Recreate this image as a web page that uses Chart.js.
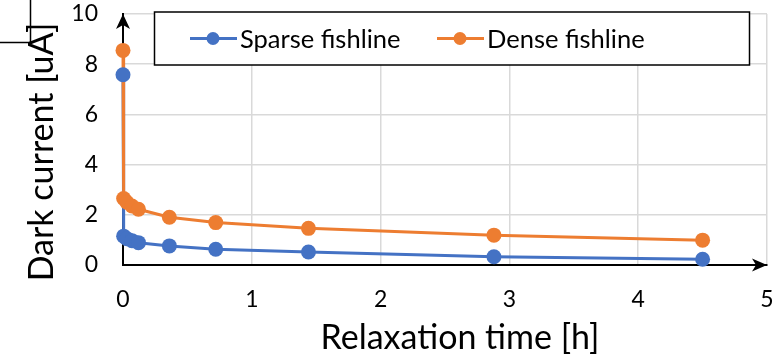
<!DOCTYPE html>
<html>
<head>
<meta charset="utf-8">
<script src="https://cdn.jsdelivr.net/npm/chart.js@4/dist/chart.umd.min.js"></script>
<style>
  html, body { margin: 0; padding: 0; background: #ffffff; }
  #wrap { width: 776px; height: 361px; position: relative; }
</style>
</head>
<body>
<div id="wrap"><canvas id="c" width="776" height="361"></canvas></div>
<script>
// Relaxation time in hours
const times = [0, 0.005, 0.03, 0.07, 0.12, 0.36, 0.72, 1.44, 2.88, 4.5];
// Dark current in uA
const sparse = [7.58, 1.15, 1.05, 0.97, 0.89, 0.76, 0.63, 0.52, 0.33, 0.23];
const dense  = [8.55, 2.65, 2.50, 2.35, 2.22, 1.90, 1.69, 1.46, 1.19, 0.99];

const seriesNames = ['Sparse fishline', 'Dense fishline'];
const seriesColors = ['#4472C4', '#ED7D31'];
const xTicks = [0, 1, 2, 3, 4, 5];
const yTicks = [0, 2, 4, 6, 8, 10];
const xTitle = 'Relaxation time [h]';
const yTitle = 'Dark current [uA]';

const FONT = 'Lato, "Open Sans", sans-serif';

function pts(vals) { return times.map((t, i) => ({ x: t, y: vals[i] })); }

// lines first, markers after, so markers sit on top of every line
const datasets = [
  { label: seriesNames[0], data: pts(sparse), showLine: true, borderColor: seriesColors[0], borderWidth: 3,
    pointRadius: 0, pointHoverRadius: 0, order: 4, clip: false, isLegend: true },
  { label: seriesNames[1], data: pts(dense), showLine: true, borderColor: seriesColors[1], borderWidth: 3,
    pointRadius: 0, pointHoverRadius: 0, order: 3, clip: false, isLegend: true },
  { label: seriesNames[0] + ' markers', data: pts(sparse), showLine: false, backgroundColor: seriesColors[0],
    borderColor: seriesColors[0], borderWidth: 0, pointRadius: 7.5, order: 2, clip: false },
  { label: seriesNames[1] + ' markers', data: pts(dense), showLine: false, backgroundColor: seriesColors[1],
    borderColor: seriesColors[1], borderWidth: 0, pointRadius: 7.5, order: 1, clip: false }
];

function noPad(s) { s.paddingTop = 0; s.paddingBottom = 0; s.paddingLeft = 0; s.paddingRight = 0; }

const decorations = {
  id: 'decorations',
  afterDraw(chart) {
    const ctx = chart.ctx;
    const a = chart.chartArea;
    ctx.save();

    // frame fragment in the top-left corner
    ctx.strokeStyle = '#000';
    ctx.lineWidth = 1.5;
    ctx.beginPath();
    ctx.moveTo(30.5, 0); ctx.lineTo(30.5, 42.5); ctx.lineTo(0, 42.5);
    ctx.stroke();

    // axis arrowheads
    ctx.fillStyle = '#000';
    const x0 = a.left, yTop = a.top, yBot = a.bottom, xR = a.right;
    ctx.beginPath();
    ctx.moveTo(x0, yTop);
    ctx.lineTo(x0 - 7, yTop + 15);
    ctx.lineTo(x0, yTop + 11);
    ctx.lineTo(x0 + 7, yTop + 15);
    ctx.closePath(); ctx.fill();
    ctx.beginPath();
    ctx.moveTo(xR, yBot);
    ctx.lineTo(xR - 15, yBot - 6.5);
    ctx.lineTo(xR - 11, yBot);
    ctx.lineTo(xR - 15, yBot + 6.5);
    ctx.closePath(); ctx.fill();

    // legend box
    const lx = 154.5, ly = 12, lw = 595, lh = 53;
    ctx.fillStyle = '#fff';
    ctx.fillRect(lx, ly, lw, lh);
    ctx.strokeStyle = '#000';
    ctx.lineWidth = 1.5;
    ctx.strokeRect(lx, ly, lw, lh);
    const items = chart.data.datasets.filter(d => d.isLegend);
    const starts = [190, 437];
    ctx.font = '25.5px ' + FONT;
    ctx.textBaseline = 'middle';
    ctx.textAlign = 'left';
    items.forEach((d, i) => {
      const sx = starts[i], cy = 38.5;
      ctx.strokeStyle = d.borderColor;
      ctx.lineWidth = 3;
      ctx.beginPath(); ctx.moveTo(sx, cy); ctx.lineTo(sx + 47, cy); ctx.stroke();
      ctx.fillStyle = d.borderColor;
      ctx.beginPath(); ctx.arc(sx + 23, cy, 6.5, 0, Math.PI * 2); ctx.fill();
      ctx.fillStyle = '#000';
      ctx.fillText(d.label, sx + 50, cy + 1);
    });

    // axis titles
    ctx.fillStyle = '#000';
    ctx.font = '34px ' + FONT;
    ctx.textAlign = 'center';
    ctx.textBaseline = 'middle';
    ctx.fillText(xTitle, 460, 338);
    ctx.translate(42, 152);
    ctx.rotate(-Math.PI / 2);
    ctx.fillText(yTitle, 0, 0);
    ctx.restore();
  }
};

new Chart(document.getElementById('c'), {
  type: 'scatter',
  data: { datasets },
  options: {
    responsive: false,
    animation: false,
    events: [],
    layout: { padding: { left: 0, right: 9, top: 14, bottom: 0 } },
    plugins: { legend: { display: false }, tooltip: { enabled: false } },
    scales: {
      x: {
        type: 'linear', min: 0, max: 5,
        afterFit(s) { s.height = 96; noPad(s); },
        afterBuildTicks(s) { s.ticks = xTicks.map(v => ({ value: v })); },
        grid: { color: '#d9d9d9', lineWidth: 1.5, drawTicks: false },
        border: { color: '#000', width: 2 },
        ticks: { padding: 21, color: '#000', font: { family: FONT, size: 23 } }
      },
      y: {
        type: 'linear', min: 0, max: 10,
        afterFit(s) { s.width = 123; noPad(s); },
        afterBuildTicks(s) { s.ticks = yTicks.map(v => ({ value: v })); },
        grid: { color: '#d9d9d9', lineWidth: 1.5, drawTicks: false },
        border: { color: '#000', width: 2 },
        ticks: { padding: 25, color: '#000', font: { family: FONT, size: 23 } }
      }
    }
  },
  plugins: [decorations]
});
</script>
</body>
</html>
